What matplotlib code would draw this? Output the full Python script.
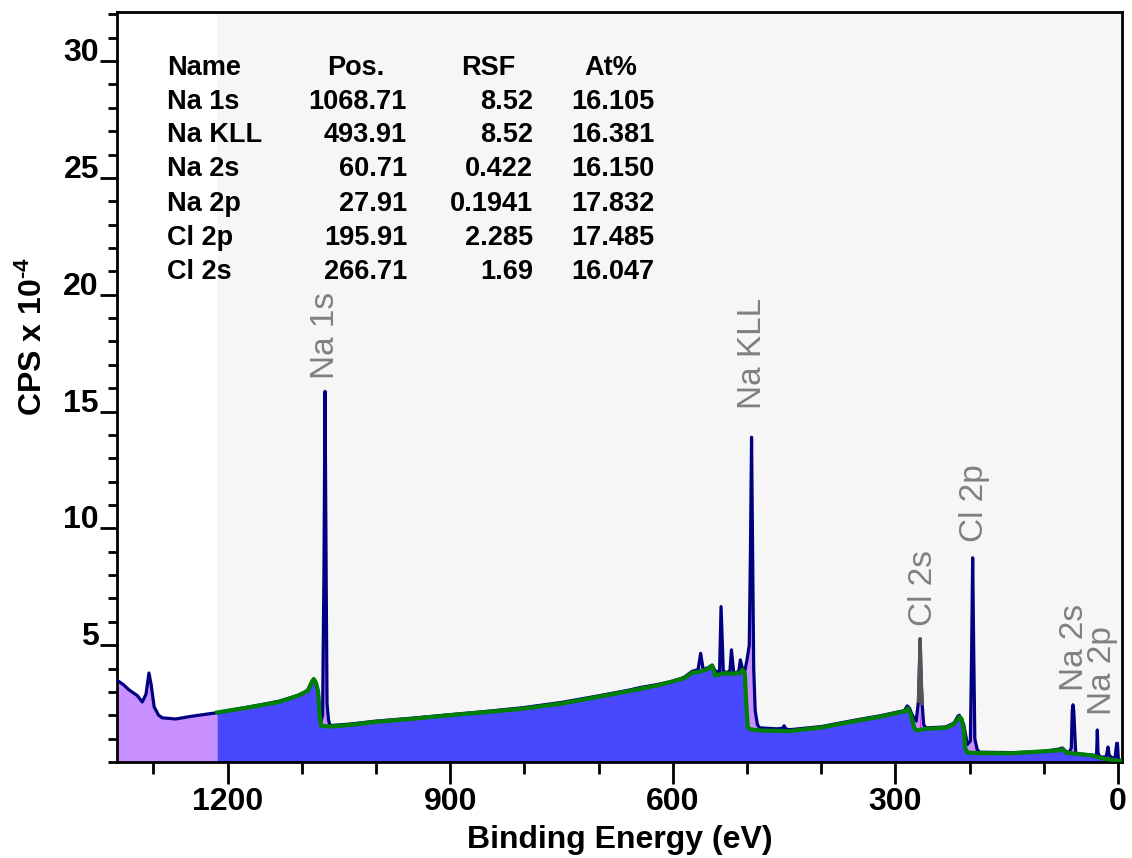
import numpy as np
import matplotlib
matplotlib.use("Agg")
import matplotlib.pyplot as plt
from matplotlib.ticker import MultipleLocator

plt.rcParams['font.family'] = ['Liberation Sans', 'DejaVu Sans']
plt.rcParams['font.weight'] = 'bold'
plt.rcParams['mathtext.fontset'] = 'custom'
plt.rcParams['mathtext.bf'] = 'Liberation Sans:bold'
plt.rcParams['mathtext.rm'] = 'Liberation Sans:bold'
plt.rcParams['mathtext.default'] = 'bf'

# survey spectrum (binding energy eV, CPS x 1e-4)
be_spec = [1349, 1340, 1333, 1322, 1315, 1310, 1306, 1303, 1299, 1293, 1288, 1270, 1250,
           1225, 1212, 1190, 1167, 1150, 1131, 1115, 1104, 1095, 1090, 1086, 1084, 1081,
           1078, 1076, 1074, 1072, 1070.2, 1068.7, 1067.2, 1066, 1064, 1062, 1036, 1000,
           950, 902, 850, 803, 750, 702, 660, 645, 620, 601, 585, 574, 566, 562.5, 559,
           552, 547, 543, 537, 535, 532, 528, 523, 521, 518, 515, 511, 509, 506, 503, 500,
           497, 495.4, 493.9, 492.4, 491, 489, 486, 483, 460, 452, 450, 448, 443, 399, 353,
           320, 295, 288, 284, 281, 278, 272, 269, 268, 266.7, 265.4, 264, 262, 259, 232,
           221, 216, 214, 211, 208, 205, 203, 199, 197.4, 195.9, 194.4, 193, 190, 187, 143,
           100, 80, 75, 70, 66, 63, 61.7, 60.7, 59.7, 57, 52.6, 35, 30, 28.8, 27.9, 27, 25,
           21.6, 16, 13.5, 12, 8, 4, 1.8, 0.8, -0.5, -5.4]
cps_spec = [3.50, 3.30, 3.09, 2.85, 2.57, 2.90, 3.81, 3.30, 2.36, 2.00, 1.89, 1.84, 1.95,
            2.06, 2.12, 2.25, 2.38, 2.48, 2.60, 2.75, 2.87, 3.00, 3.15, 3.45, 3.56, 3.40,
            3.05, 2.20, 1.75, 2.00, 8.00, 15.86, 8.00, 2.50, 1.80, 1.56, 1.62, 1.75,
            1.88, 2.02, 2.17, 2.32, 2.55, 2.82, 3.07, 3.18, 3.32, 3.45, 3.62, 3.88, 3.95, 4.65, 3.95,
            4.05, 4.15, 3.90, 3.85, 6.65, 3.90, 3.82, 3.90, 4.80, 3.85, 3.80, 3.90, 4.37, 3.98, 3.90, 4.37,
            5.00, 9.00, 13.90, 9.00, 4.00, 2.20, 1.60, 1.46, 1.42, 1.44, 1.55, 1.42, 1.38, 1.52, 1.80,
            1.98, 2.15, 2.20, 2.40, 2.30, 2.05, 1.75, 2.60, 3.60, 5.27, 3.60, 2.50, 1.60, 1.46, 1.50,
            1.67, 1.95, 2.00, 1.85, 1.60, 1.10, 0.75, 0.90, 4.50, 8.74, 4.50, 1.00, 0.55, 0.42, 0.40,
            0.45, 0.55, 0.60, 0.45, 0.40, 0.60, 2.20, 2.45, 2.20, 0.36, 0.34, 0.30, 0.25, 0.40, 1.37, 0.40, 0.24,
            0.21, 0.22, 0.64, 0.30, 0.17, 0.20, 0.80, 0.80, 0.10, 0.05]

# Shirley-type background (green), defined from 1214 eV downwards
be_bg = [1214, 1167, 1131, 1104, 1092, 1087, 1084, 1081, 1078, 1076, 1074, 1063, 1036,
         1000, 950, 902, 850, 803, 750, 702, 660, 620, 585, 574, 566, 555, 547, 543, 537,
         530, 520, 510, 506, 503, 501, 499, 496, 484, 443, 399, 353, 320, 295, 287, 283,
         279, 275, 272, 259, 232, 221, 214, 211, 208, 206, 203, 187, 143, 80, 75, 70, 35,
         20, 0, -5.4]
cps_bg = [2.12, 2.36, 2.57, 2.85, 3.05, 3.40, 3.55, 3.40, 3.00, 2.00, 1.55, 1.52, 1.58,
          1.72, 1.85, 2.00, 2.14, 2.28, 2.50, 2.78, 3.03, 3.28, 3.58, 3.82, 3.85, 3.95, 4.12, 3.70, 3.75,
          3.80, 3.78, 3.80, 3.95, 3.80, 2.50, 1.50, 1.40, 1.35, 1.32, 1.48, 1.76, 1.94, 2.12, 2.17, 2.30,
          2.00, 1.50, 1.35, 1.42, 1.46, 1.62, 1.92, 1.85, 1.40, 0.60, 0.40, 0.38, 0.37, 0.50, 0.55, 0.40, 0.28,
          0.15, 0.05, 0.05]

# Cl 2s region highlighted in grey, with a small magenta component at its base
be_cl2s = [269, 268, 266.7, 265.4, 264]
cps_cl2s = [2.60, 3.60, 5.27, 3.60, 2.50]
be_comp = [267.6, 266.7, 265.8]
cps_comp = [1.45, 2.10, 1.45]

# peak labels
peak_names = ['Na 1s', 'Na KLL', 'Cl 2s', 'Cl 2p', 'Na 2s', 'Na 2p']
label_be = [1068.7, 492.0, 262.0, 193.5, 59.0, 21.0]
label_y = [16.4, 15.1, 5.8, 9.4, 3.05, 2.0]

# quantification table
tab_names = ['Na 1s', 'Na KLL', 'Na 2s', 'Na 2p', 'Cl 2p', 'Cl 2s']
tab_pos = ['1068.71', '493.91', '60.71', '27.91', '195.91', '266.71']
tab_rsf = ['8.52', '8.52', '0.422', '0.1941', '2.285', '1.69']
tab_at = ['16.105', '16.381', '16.150', '17.832', '17.485', '16.047']

fig = plt.figure(figsize=(11.32, 8.58), dpi=100)
ax = fig.add_axes([0.1034, 0.1119, 0.8878, 0.8741])

xmin, xmax = 1349, -5.4
ax.axvspan(1214, xmax, color='#f6f6f6', zorder=0, lw=0)

be_s = np.array(be_spec)
cps_s = np.array(cps_spec)
ax.fill_between(be_s, 0, cps_s, color='#c890ff', lw=0, zorder=1)
ax.fill_between(be_bg, 0, cps_bg, color='#4848ff', lw=0, zorder=2)
ax.fill_between(be_comp, np.interp(be_comp, be_bg[::-1], cps_bg[::-1]), cps_comp,
                color='#ff00ff', lw=0, zorder=3)
ax.plot(be_s, cps_s, color='#000080', lw=2.3, zorder=4)
ax.plot(be_cl2s, cps_cl2s, color='#555555', lw=2.4, zorder=5)
ax.plot(be_bg, cps_bg, color='#008000', lw=3, zorder=6)

for name, xb, yb in zip(peak_names, label_be, label_y):
    ax.text(xb, yb, name, rotation=90, ha='center', va='bottom', color='#808080',
            fontsize=24, fontweight='normal', zorder=7)

# table in axes fraction
fs_tab = 19.5
row_y = [0.926, 0.880, 0.836, 0.791, 0.744, 0.699, 0.653]
ax.text(0.050, row_y[0], 'Name', transform=ax.transAxes, ha='left', va='center', fontsize=fs_tab)
ax.text(0.238, row_y[0], 'Pos.', transform=ax.transAxes, ha='center', va='center', fontsize=fs_tab)
ax.text(0.369, row_y[0], 'RSF', transform=ax.transAxes, ha='center', va='center', fontsize=fs_tab)
ax.text(0.4915, row_y[0], 'At%', transform=ax.transAxes, ha='center', va='center', fontsize=fs_tab)
for i in range(len(tab_names)):
    yy = row_y[i + 1]
    ax.text(0.050, yy, tab_names[i], transform=ax.transAxes, ha='left', va='center', fontsize=fs_tab)
    ax.text(0.2886, yy, tab_pos[i], transform=ax.transAxes, ha='right', va='center', fontsize=fs_tab)
    ax.text(0.414, yy, tab_rsf[i], transform=ax.transAxes, ha='right', va='center', fontsize=fs_tab)
    ax.text(0.535, yy, tab_at[i], transform=ax.transAxes, ha='right', va='center', fontsize=fs_tab)

ax.set_xlim(xmin, xmax)
ax.set_ylim(0, 32.1)

ax.xaxis.set_major_locator(MultipleLocator(300))
ax.xaxis.set_minor_locator(MultipleLocator(100))
ax.yaxis.set_minor_locator(MultipleLocator(1))
ax.set_yticks([5, 10, 15, 20, 25, 30])

ax.tick_params(axis='x', which='major', direction='out', length=16, width=2, labelsize=23, pad=2)
ax.tick_params(axis='x', which='minor', direction='out', length=8.5, width=2)
ax.tick_params(axis='y', which='major', direction='out', length=12, width=2, labelsize=23, pad=1)
ax.tick_params(axis='y', which='minor', direction='out', length=6.5, width=2)
for lbl in ax.get_yticklabels():
    lbl.set_va('baseline')

for sp in ax.spines.values():
    sp.set_linewidth(2)

ax.set_xlabel('Binding Energy (eV)', fontsize=23, fontweight='bold', labelpad=6)
ax.set_ylabel('CPS x 10$^{\\text{-4}}$', fontsize=23, fontweight='bold')
ax.yaxis.set_label_coords(-0.068, 0.567)

fig.savefig('out.png', dpi=100)
